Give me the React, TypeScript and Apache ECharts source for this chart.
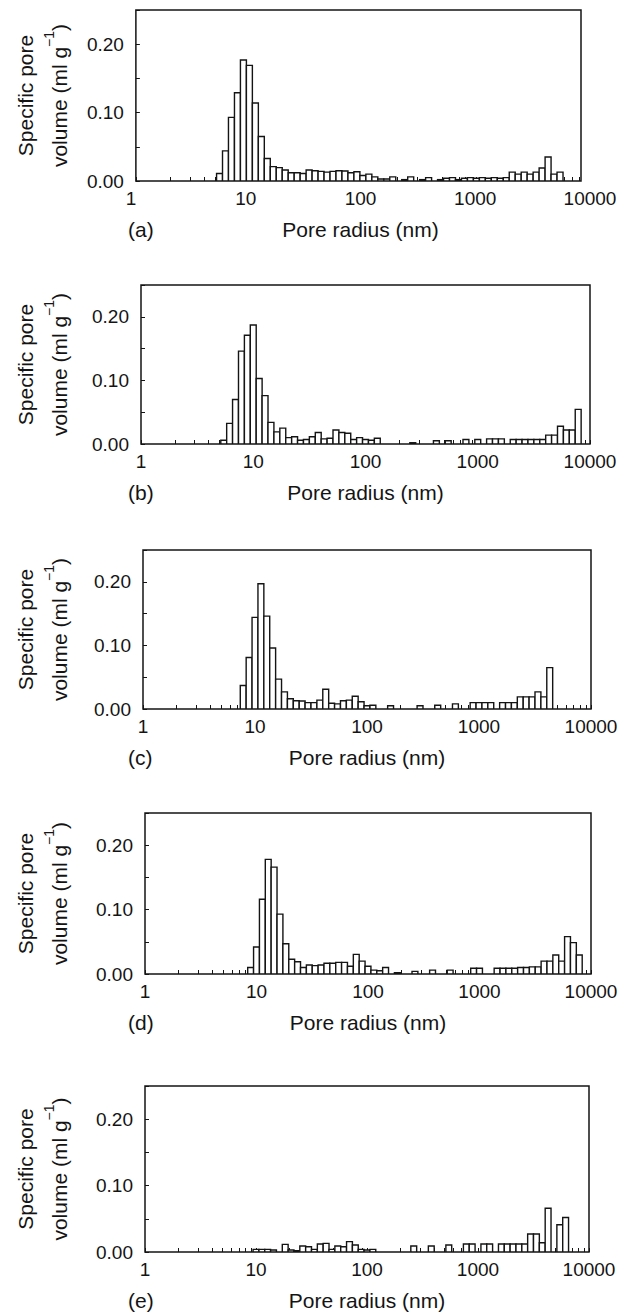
import React, { useEffect, useRef } from 'react';
import * as echarts from 'echarts';

// Bin centres (pore radius, nm) shared by all five histograms
const poreRadius = [
  4.83, 5.46, 6.16, 6.95, 7.85, 8.86, 10.0, 11.29, 12.74, 14.38,
  16.24, 18.33, 20.69, 23.36, 26.37, 29.76, 33.6, 37.93, 42.81, 48.33,
  54.56, 61.58, 69.52, 78.48, 88.59, 100, 112.9, 127.4, 143.8, 162.4,
  183.3, 206.9, 233.6, 263.7, 297.6, 336.0, 379.3, 428.1, 483.3, 545.6,
  615.8, 695.2, 784.8, 885.9, 1000, 1129, 1274, 1438, 1624, 1833,
  2069, 2336, 2637, 2976, 3360, 3793, 4281, 4833, 5456, 6158,
  6952, 7848, 8859,
];

// Specific pore volume (ml g-1) per bin
const volumeA = [
  0, 0.011, 0.044, 0.093, 0.129, 0.177, 0.169, 0.114, 0.065, 0.033,
  0.021, 0.0195, 0.016, 0.012, 0.012, 0.011, 0.016, 0.015, 0.014, 0.013,
  0.014, 0.015, 0.0146, 0.012, 0.0136, 0.008, 0.01, 0.006, 0.003, 0.003,
  0.006, 0, 0.002, 0.006, 0, 0.002, 0.005, 0, 0.002, 0.004,
  0.005, 0.002, 0.004, 0.005, 0.004, 0.005, 0.004, 0.005, 0.004, 0.005,
  0.013, 0.01, 0.013, 0.01, 0.013, 0.019, 0.035, 0.01, 0.013, 0,
  0, 0, 0,
];
const volumeB = [
  0, 0.006, 0.0325, 0.07, 0.146, 0.171, 0.187, 0.103, 0.076, 0.034,
  0.019, 0.025, 0.01, 0.0115, 0.006, 0.007, 0.0115, 0.018, 0.008, 0.009,
  0.022, 0.018, 0.017, 0.007, 0.01, 0.007, 0.006, 0.009, 0, 0,
  0, 0, 0, 0.002, 0, 0, 0, 0.005, 0, 0.005,
  0, 0, 0.007, 0, 0.007, 0, 0.008, 0.008, 0.008, 0,
  0.007, 0.007, 0.007, 0.007, 0.007, 0.007, 0.014, 0.014, 0.028, 0.022,
  0.022, 0.0545, 0,
];
const volumeC = [
  0, 0, 0, 0, 0.037, 0.081, 0.144, 0.197, 0.146, 0.096,
  0.047, 0.027, 0.016, 0.013, 0.0126, 0.01, 0.01, 0.014, 0.031, 0.009,
  0.008, 0.013, 0.014, 0.02, 0.0115, 0.005, 0.006, 0, 0, 0.005,
  0, 0, 0, 0, 0.005, 0, 0, 0.006, 0, 0,
  0.008, 0, 0, 0.01, 0.01, 0.01, 0.01, 0, 0.01, 0.01,
  0.01, 0.019, 0.019, 0.019, 0.027, 0.019, 0.065, 0, 0, 0,
  0, 0, 0,
];
const volumeD = [
  0, 0, 0, 0, 0, 0.01, 0.042, 0.116, 0.178, 0.166,
  0.093, 0.047, 0.023, 0.019, 0.01, 0.014, 0.013, 0.014, 0.0166, 0.0166,
  0.018, 0.018, 0.012, 0.0305, 0.02, 0.012, 0.006, 0.005, 0.01, 0,
  0.002, 0, 0, 0.004, 0, 0, 0.006, 0, 0, 0.006,
  0, 0, 0, 0.009, 0.009, 0, 0, 0.009, 0.009, 0.009,
  0.009, 0.01, 0.01, 0.011, 0.011, 0.02, 0.02, 0.0295, 0.02, 0.058,
  0.0487, 0.0295, 0,
];
const volumeE = [
  0, 0, 0, 0, 0, 0, 0.004, 0.004, 0.004, 0.003,
  0, 0.0115, 0.003, 0.002, 0.009, 0.008, 0.004, 0.012, 0.013, 0.004,
  0.009, 0.008, 0.0156, 0.0105, 0.004, 0.003, 0.004, 0, 0, 0,
  0, 0, 0, 0.009, 0, 0, 0.009, 0, 0, 0.0105,
  0, 0, 0.012, 0.012, 0, 0.012, 0.012, 0, 0.012, 0.012,
  0.012, 0.012, 0.012, 0.027, 0.027, 0.014, 0.066, 0, 0.041, 0.052,
  0, 0, 0,
];

const panelLetters = ['(a)', '(b)', '(c)', '(d)', '(e)'];
const xLabelValues = [1, 10, 100, 1000, 10000];
const xMinorSteps = [2, 3, 4, 5, 6, 7, 8, 9];
const yTickInterval = 0.05;
const yMax = 0.25;
const xTitle = 'Pore radius (nm)';
const yTitle = 'Specific pore\nvolume (ml g{sup|\u22121})';

const volumes = [volumeA, volumeB, volumeC, volumeD, volumeE];

const FONT = '"Liberation Sans", Arial, Helvetica, sans-serif';
const INK = '#141414';
const BIN_FACTOR = Math.pow(10, 0.5 / 19);

const layouts = [
  { left: 131, top: 10, width: 450, height: 171, xMax: Math.pow(10, 450 / 114.75) },
  { left: 137, top: 285, width: 453, height: 159, xMax: 10000 },
  { left: 139, top: 550, width: 452, height: 159, xMax: 10000 },
  { left: 141, top: 813, width: 450, height: 161, xMax: 10000 },
  { left: 141, top: 1086, width: 448, height: 166, xMax: 10000 },
];

const xTickValues: number[] = [];
for (let d = 0; d < 4; d++) {
  const base = Math.pow(10, d);
  xTickValues.push(base);
  for (const m of xMinorSteps) xTickValues.push(m * base);
}
xTickValues.push(10000);

const renderBar = (_params: any, api: any) => {
  const r = api.value(0) as number;
  const v = api.value(1) as number;
  const a = api.coord([r / BIN_FACTOR, 0]);
  const b = api.coord([r * BIN_FACTOR, v]);
  return {
    type: 'rect',
    shape: { x: a[0], y: b[1], width: b[0] - a[0], height: a[1] - b[1] },
    style: { fill: '#ffffff', stroke: INK, lineWidth: 1.4 },
  };
};

const labelFont = { fontFamily: FONT, fontSize: 19, color: INK };
const titleFont = { fontFamily: FONT, fontSize: 21, color: INK };

export default function App() {
  const ref = useRef<HTMLDivElement>(null);
  useEffect(() => {
    if (!ref.current) return;
    const chart = echarts.init(ref.current, null, { renderer: 'svg' });

    const grids: any[] = layouts.map((l) => ({
      left: l.left, top: l.top, width: l.width, height: l.height,
      show: true, borderColor: INK, borderWidth: 1.5, backgroundColor: 'transparent',
      containLabel: false,
    }));
    // label-only grid for panel (a), whose decade labels run past its frame
    grids.push({ left: 131, top: 10, width: 459, height: 171, show: false });

    const xAxes: any[] = layouts.map((l, i) => ({
      gridIndex: i, type: 'log', logBase: 10, min: 1, max: l.xMax,
      axisLine: { show: false },
      axisTick: {
        show: true, inside: true, length: 4,
        customValues: xTickValues.filter((v) => v <= l.xMax),
        lineStyle: { color: INK, width: 1 },
      },
      axisLabel: {
        show: i !== 0, customValues: xLabelValues, margin: 8, ...labelFont,
        formatter: (v: number) => String(Math.round(v)),
      },
      splitLine: { show: false },
      name: i !== 0 ? xTitle : '', nameLocation: 'middle', nameGap: 38,
      nameTextStyle: titleFont,
    }));
    xAxes.push({
      gridIndex: 5, type: 'log', logBase: 10, min: 1, max: 10000,
      axisLine: { show: false }, axisTick: { show: false }, splitLine: { show: false },
      axisLabel: {
        show: true, customValues: xLabelValues, margin: 8, ...labelFont,
        formatter: (v: number) => String(Math.round(v)),
      },
      name: xTitle, nameLocation: 'middle', nameGap: 38, nameTextStyle: titleFont,
    });

    const yAxes: any[] = layouts.map((l, i) => ({
      gridIndex: i, type: 'value', min: 0, max: yMax, interval: yTickInterval,
      axisLine: { show: false },
      axisTick: { show: true, inside: true, length: 4, lineStyle: { color: INK, width: 1 } },
      axisLabel: {
        margin: 12, ...labelFont,
        formatter: (v: number) => (Math.round(v * 100) % 10 === 0 ? v.toFixed(2) : ''),
      },
      splitLine: { show: false },
      name: yTitle, nameLocation: 'middle', nameRotate: 90, nameGap: l.left - 72,
      nameTextStyle: {
        ...titleFont, lineHeight: 34, align: 'center',
        rich: { sup: { fontFamily: FONT, fontSize: 14, color: INK, lineHeight: 20, verticalAlign: 'top' } },
      },
    }));
    yAxes.push({ gridIndex: 5, type: 'value', min: 0, max: yMax, show: false });

    const series: any[] = volumes.map((vals, i) => ({
      type: 'custom', xAxisIndex: i, yAxisIndex: i, renderItem: renderBar,
      data: poreRadius.map((r, j) => [r, vals[j]]).filter((d) => d[1] > 0),
      encode: { x: 0, y: 1 }, clip: true, silent: true,
    }));

    const titles = layouts.map((l, i) => ({
      text: panelLetters[i], left: 128, top: l.top + l.height + 38, padding: 0,
      textStyle: { ...titleFont, fontWeight: 'normal' },
    }));

    chart.setOption({
      animation: false,
      backgroundColor: '#ffffff',
      title: titles,
      grid: grids,
      xAxis: xAxes,
      yAxis: yAxes,
      series,
    });
    return () => chart.dispose();
  }, []);
  return (
    <div
      ref={ref}
      style={{ position: 'absolute', left: 0, top: 0, width: 621, height: 1313 }}
    />
  );
}
